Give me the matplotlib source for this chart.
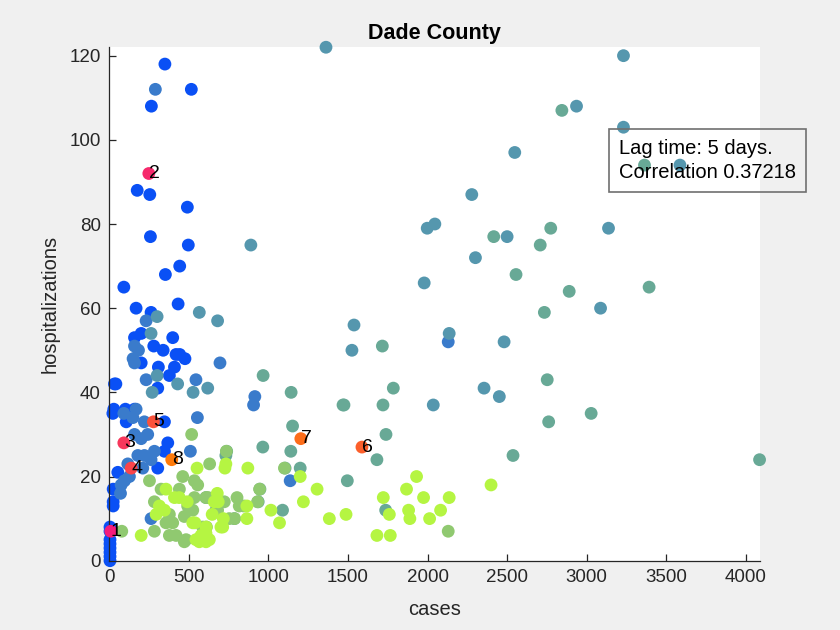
import matplotlib
matplotlib.use("Agg")
import matplotlib.pyplot as plt
from matplotlib.colors import LinearSegmentedColormap

plt.rcParams['font.family'] = ['Liberation Sans', 'DejaVu Sans']

# shade: 0 = early (blue) ... 1 = late (yellow-green)
B, S, T, GT, G, Y = 0.0, 0.3, 0.5, 0.65, 0.8, 1.0

# early weeks: low cases, many hospitalizations
cases_early = [5, 5, 5, 5, 5, 5, 5, 5, 25, 25, 25, 23, 33, 54, 29, 102, 42,
               71, 96, 75, 127, 117, 180, 221, 263, 284, 305, 211, 347, 368,
               347, 242, 159, 201, 221, 92, 159, 107, 149, 169, 305, 232, 378,
               309, 410, 150, 159, 201, 420, 443, 476, 159, 201, 399, 159,
               184, 280, 339, 169, 263, 232, 433, 92, 353, 443, 497, 259, 491,
               176, 255, 265, 516, 350]
hosp_early = [0, 1, 2, 3, 4, 5, 7, 8, 14, 13, 17, 35, 42, 21, 36, 36, 42,
              16, 19, 18, 20, 23, 25, 25, 24, 26, 22, 22, 26, 28,
              33, 30, 30, 29, 33, 35, 36, 33, 34, 36, 41, 43, 44,
              46, 46, 48, 47, 47, 49, 49, 48, 53, 54, 53, 51,
              50, 51, 50, 60, 59, 57, 61, 65, 68, 70, 75, 77, 84,
              88, 87, 108, 112, 118]
shade_early = [B, B, B, B, B, B, B, B, B, B, B, B, B, B, B, B, B,
               S, S, S, S, S, S, S, S, S, B, S, B, B,
               B, S, S, S, S, S, B, B, S, S, B, S, B,
               B, B, S, S, B, B, B, B, B, B, B, S,
               S, B, B, B, B, S, B, B, B, B, B, B, B,
               B, B, B, B, B]

# transition: teal and steel points
cases_mid = [430, 619, 527, 270, 545, 301, 696, 263, 301, 566, 681, 290,
             890, 1362, 915, 907, 510, 554, 263, 1137, 967, 1143, 1475,
             1538, 1525, 1716, 1785, 1469, 1720, 1739, 1682, 1152, 1141,
             965, 738, 733, 1200, 1105, 1496, 1737, 947, 936, 608, 1089,
             786, 671]
hosp_mid = [42, 41, 40, 40, 43, 44, 47, 54, 58, 59, 57, 112,
            75, 122, 39, 37, 26, 34, 10, 19, 44, 40, 37,
            56, 50, 51, 41, 37, 37, 30, 24, 32, 26,
            27, 26, 25, 22, 22, 19, 12, 17, 14, 15, 12,
            10, 12]
shade_mid = [T, T, T, T, S, T, S, T, T, T, T, S,
             T, T, S, S, S, S, S, S, GT, GT, GT,
             T, T, GT, GT, GT, GT, GT, GT, GT, GT,
             GT, GT, GT, GT, GT, GT, GT, GT, GT, GT, GT,
             GT, GT]

# later surge: high cases
cases_late = [3231, 2844, 2936, 3231, 2548, 3363, 3586, 2278, 1998, 2046,
              2416, 2500, 2774, 3137, 2708, 2301, 2556, 1979, 2890, 3392,
              2734, 3087, 2136, 2130, 2481, 2752, 2355, 2451, 2036, 3028,
              2761, 2537, 4086, 2130]
hosp_late = [120, 107, 108, 103, 97, 94, 94, 87, 79, 80,
             77, 77, 79, 79, 75, 72, 68, 66, 64, 65,
             59, 60, 54, 52, 52, 43, 41, 39, 37, 35,
             33, 25, 24, 7]
shade_late = [T, GT, T, T, T, GT, T, T, T, T,
              GT, T, GT, T, GT, T, GT, T, GT, GT,
              GT, T, T, S, T, GT, T, T, T, GT,
              GT, GT, GT, G]

# latest weeks: yellow-green cluster
cases_end = [736, 631, 518, 1101, 945, 932, 803, 846, 788, 681, 622, 611,
             462, 535, 556, 253, 326, 441, 608, 284, 535, 723, 817, 493,
             525, 378, 472, 754, 357, 399, 587, 284, 378, 420, 483, 472, 79,
             1200, 1306, 1220, 1383, 1488, 1722, 1760, 1682, 1766, 1070,
             1016, 871, 727, 552, 679, 685, 865, 717, 865, 647, 539, 490,
             440, 733, 357, 410, 315, 347, 295, 525, 702, 201, 545, 577, 608,
             566, 608, 608, 1931, 1868, 1975, 2136, 2399, 1881, 1889, 2013,
             2082, 660, 713, 629]
hosp_end = [26, 23, 30, 22, 17, 14, 15, 13, 10, 12, 15, 8,
            20, 19, 18, 19, 17, 17, 15, 14, 15, 14, 13, 13,
            12, 11, 10.5, 10, 9, 9, 8, 7, 6, 6, 5, 4.5, 7,
            20, 17, 14, 10, 11, 15, 11, 6, 6, 9,
            12, 22, 22, 22, 16, 14, 13, 10, 10, 11, 9, 14,
            15, 23, 17, 15, 13, 12, 11, 9, 8, 6, 5, 6, 6.5,
            4.5, 4.5, 8, 20, 17, 15, 15, 18, 12, 10, 10,
            12, 14, 8, 5]
shade_end = [G, G, G, G, G, G, G, G, G, G, G, G,
             G, G, G, G, G, G, G, G, G, G, G, G,
             G, G, G, G, G, G, G, G, G, G, G, G, G,
             Y, Y, Y, Y, Y, Y, Y, Y, Y, Y,
             Y, Y, Y, Y, Y, Y, Y, Y, Y, Y, Y, Y,
             Y, Y, Y, Y, Y, Y, Y, Y, Y, Y, Y, Y, Y,
             Y, Y, Y, Y, Y, Y, Y, Y, Y, Y, Y,
             Y, Y, Y, Y]

# numbered points
lab_cases = [10, 249, 92, 138, 278, 1588, 1204, 393]
lab_hosp = [7, 92, 28, 22, 33, 27, 29, 24]
lab_text = ['1', '2', '3', '4', '5', '6', '7', '8']

title = 'Dade County'
lag_days = 5
correlation = 0.37218

cases = cases_early + cases_mid + cases_late + cases_end
hosp = hosp_early + hosp_mid + hosp_late + hosp_end
shade = shade_early + shade_mid + shade_late + shade_end
order = sorted(range(len(cases)), key=lambda i: shade[i])
cases = [cases[i] for i in order]
hosp = [hosp[i] for i in order]
shade = [shade[i] for i in order]

cmap = LinearSegmentedColormap.from_list('time', [
    (0.0, '#0A50F5'), (0.3, '#3A7BCB'), (0.5, '#5597AE'),
    (0.65, '#68A996'), (0.8, '#90C970'), (1.0, '#B5F542')])
lab_cmap = LinearSegmentedColormap.from_list('labs', ['#F41C7C', '#FF7A0A'])

fig = plt.figure(figsize=(8.4, 6.3), dpi=100, facecolor='#F0F0F0')
ax = fig.add_axes([0.13, 0.11, 0.775, 0.815])
ax.set_facecolor('white')

ax.scatter(cases, hosp, s=85, c=shade, cmap=cmap, vmin=0, vmax=1,
           linewidths=0, clip_on=False, zorder=2)
ax.scatter(lab_cases, lab_hosp, s=85, c=range(len(lab_cases)), cmap=lab_cmap,
           vmin=0, vmax=len(lab_cases) - 1, linewidths=0, clip_on=False, zorder=3)
for xc, yc, t in zip(lab_cases, lab_hosp, lab_text):
    ax.text(xc, yc, t, ha='left', va='center', fontsize=14, color='black', zorder=4)

ax.set_xlim(0, 4090)
ax.set_ylim(0, 122)
ax.set_xticks(range(0, 4001, 500))
ax.set_yticks(range(0, 121, 20))
for side in ['top', 'right']:
    ax.spines[side].set_visible(False)
for side in ['left', 'bottom']:
    ax.spines[side].set_color('#262626')
    ax.spines[side].set_linewidth(0.9)
ax.tick_params(direction='in', length=5, width=0.9, colors='#262626',
               labelsize=13.5, pad=6)

ax.set_title(title, fontsize=15.5, fontweight='bold', color='black', pad=6)
ax.set_xlabel('cases', fontsize=14.5, color='#262626', labelpad=10)
ax.set_ylabel('hospitalizations', fontsize=14.5, color='#262626', labelpad=7)

fig.text(0.737, 0.745, 'Lag time: %d days.\nCorrelation %.5f' % (lag_days, correlation),
         fontsize=14.5, va='center', ha='left', linespacing=1.3,
         bbox=dict(boxstyle='square,pad=0.5', facecolor='none', edgecolor='#707070',
                   linewidth=1.2))

fig.savefig('out.png', dpi=100, facecolor=fig.get_facecolor())
